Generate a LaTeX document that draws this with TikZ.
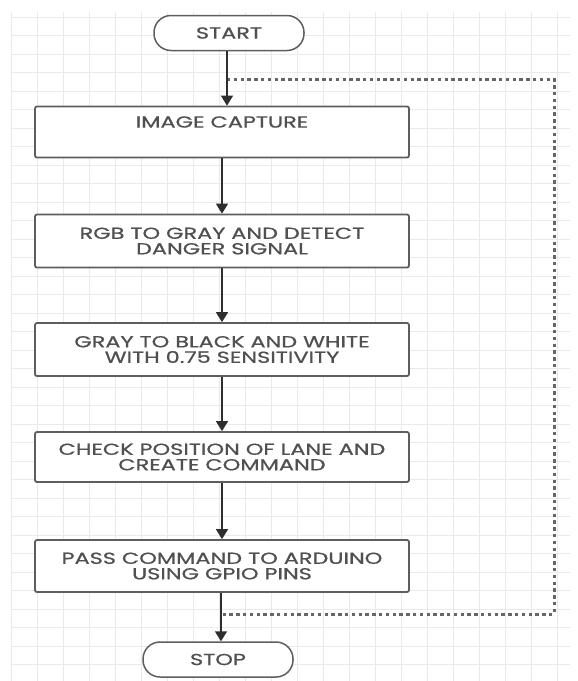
\documentclass[tikz,border=0pt]{standalone}
\usepackage{fontspec}
\setmainfont[FakeStretch=1.4,FakeBold=0.8]{Poppins}
\usetikzlibrary{arrows.meta}
\definecolor{boxgray}{HTML}{5E5E5E}
\definecolor{txtgray}{HTML}{505050}
\definecolor{arrowgray}{HTML}{2E2E2E}
\definecolor{dotgray}{HTML}{666666}
\definecolor{gridgray}{HTML}{EAEAEA}
\begin{document}
\begin{tikzpicture}[x=1pt,y=-1pt,
  gridline/.style={draw=gridgray, line width=0.6pt},
  procbox/.style={draw=boxgray, line width=1.8pt, rounded corners=2pt, fill=white,
    minimum width=374pt, minimum height=51pt, align=center, text=txtgray, inner sep=0pt,
    font=\fontsize{16}{15.5}\selectfont},
  term/.style={draw=boxgray, line width=1.5pt, rounded corners=17pt, fill=white,
    minimum width=150pt, minimum height=35pt, text=txtgray, inner sep=0pt,
    font=\fontsize{16}{15.5}\selectfont},
  flow/.style={draw=arrowgray, line width=1.6pt, -{Triangle[length=10pt,width=12pt]}},
  loopline/.style={draw=dotgray, line width=3pt, dash pattern=on 3.4pt off 3.4pt}]
\useasboundingbox (0,0) rectangle (578,681);
\fill[white] (0,0) rectangle (578,681);
% background grid
\foreach \gx in {11,37,...,570} \draw[gridline] (\gx,12) -- (\gx,681);
\foreach \gy in {17,35.5,...,681} \draw[gridline] (12,\gy) -- (570,\gy);
% nodes
\node[term] (start) at (229,33) {START};
\node[procbox] (img) at (222,132) {IMAGE CAPTURE\\ \strut};
\node[procbox, minimum height=53pt] (gray) at (222,241) {RGB TO GRAY AND DETECT\\DANGER SIGNAL};
\node[procbox, minimum height=53pt] (bw) at (222,349.5) {GRAY TO BLACK AND WHITE\\WITH 0.75 SENSITIVITY};
\node[procbox, minimum height=50pt] (lane) at (222,457) {CHECK POSITION OF LANE AND\\CREATE COMMAND};
\node[procbox, minimum height=52pt] (pass) at (222,566) {PASS COMMAND TO ARDUINO\\USING GPIO PINS};
\node[term] (stop) at (218,659.5) {STOP};
% loop coordinates
\coordinate (lt) at (227,79);
\coordinate (ltr) at (554,79);
\coordinate (lbr) at (554,614);
\coordinate (lb) at (221,614);
% connectors
\draw[loopline] (lt) -- (ltr) -- (lbr) -- (lb);
\draw[flow] (start.south -| lt) -- (img.north -| lt);
\draw[flow] (img.south) -- (gray.north);
\draw[flow] (gray.south) -- (bw.north);
\draw[flow] (bw.south) -- (lane.north);
\draw[flow] (lane.south) -- (pass.north);
\draw[flow] (pass.south -| lb) -- (stop.north -| lb);
\end{tikzpicture}
\end{document}
